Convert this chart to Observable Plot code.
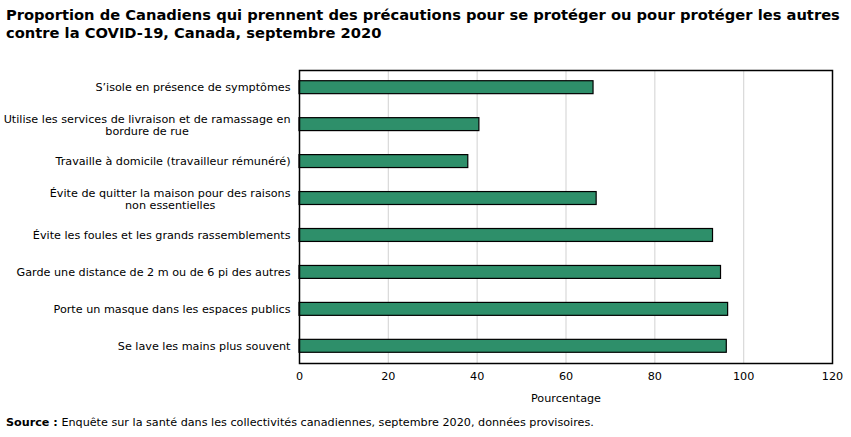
<!DOCTYPE html>
<html lang="fr">
<head>
<meta charset="utf-8">
<script src="https://cdn.jsdelivr.net/npm/d3@7"></script>
<script src="https://cdn.jsdelivr.net/npm/@observablehq/plot@0.6"></script>
<style>
  body { margin: 0; background: #fff; width: 851px; height: 437px; overflow: hidden; font-family: "DejaVu Sans", Verdana, sans-serif; color: #000; }
  #title { font-weight: bold; font-size: 14.7px; line-height: 18px; padding: 6px 0 0 6px; box-sizing: border-box; height: 48px; }
  #source { font-size: 11.2px; padding: 8px 0 0 6px; }
  #chart svg { display: block; }
</style>
</head>
<body>
<div id="title">Proportion de Canadiens qui prennent des précautions pour se protéger ou pour protéger les autres<br>contre la COVID-19, Canada, septembre 2020</div>
<div id="chart"></div>
<div id="source"><b>Source :</b> Enquête sur la santé dans les collectivités canadiennes, septembre 2020, données provisoires.</div>
<script>
// Précautions déclarées (libellés sur deux lignes séparés par \n)
const categories = [
  "S’isole en présence de symptômes",
  "Utilise les services de livraison et de ramassage en\nbordure de rue",
  "Travaille à domicile (travailleur rémunéré)",
  "Évite de quitter la maison pour des raisons\nnon essentielles",
  "Évite les foules et les grands rassemblements",
  "Garde une distance de 2 m ou de 6 pi des autres",
  "Porte un masque dans les espaces publics",
  "Se lave les mains plus souvent"
];
// Pourcentage de Canadiens
const percentages = [66.2, 40.5, 38.0, 66.9, 93.1, 94.9, 96.5, 96.2];
const xTicks = [0, 20, 40, 60, 80, 100, 120];

const data = categories.map((category, i) => ({category, value: percentages[i]}));

const chart = Plot.plot({
  width: 851,
  height: 360,
  marginLeft: 299,
  marginRight: 19,
  marginTop: 22,
  marginBottom: 45,
  style: {fontFamily: "'DejaVu Sans', Verdana, sans-serif", fontSize: "11.2px", color: "#000", background: "#fff"},
  x: {domain: [0, 120]},
  y: {domain: categories, paddingInner: 0.65, paddingOuter: 0.29, round: false},
  marks: [
    Plot.gridX(xTicks.filter(d => d > 0 && d < 120), {stroke: "#d9d9d9", strokeOpacity: 1, strokeWidth: 1.2}),
    Plot.barX(data, {y: "category", x: "value", fill: "#2e8f6a", stroke: "#000", strokeWidth: 1.2}),
    Plot.frame({stroke: "#000", strokeWidth: 1.5}),
    Plot.axisX({ticks: xTicks, tickSize: 0, tickPadding: 9, label: "Pourcentage", labelAnchor: "center", labelOffset: 38, labelArrow: "none"}),
    Plot.axisY({tickSize: 0, tickPadding: 9, label: null})
  ]
});
document.getElementById("chart").appendChild(chart);

// Centre les libellés de l'axe y sur plusieurs lignes, le bloc restant aligné à droite
d3.select(chart).selectAll("g[aria-label='y-axis tick label'] text").each(function() {
  const tspans = this.querySelectorAll("tspan");
  if (tspans.length < 2) return;
  const widths = Array.from(tspans, t => t.getComputedTextLength());
  const w = Math.max(...widths);
  this.setAttribute("text-anchor", "middle");
  tspans.forEach((t, i) => {
    t.setAttribute("x", -w / 2);
    if (i > 0) t.setAttribute("dy", "1.1em");
  });
  this.setAttribute("y", "-0.05em");
});
</script>
</body>
</html>
